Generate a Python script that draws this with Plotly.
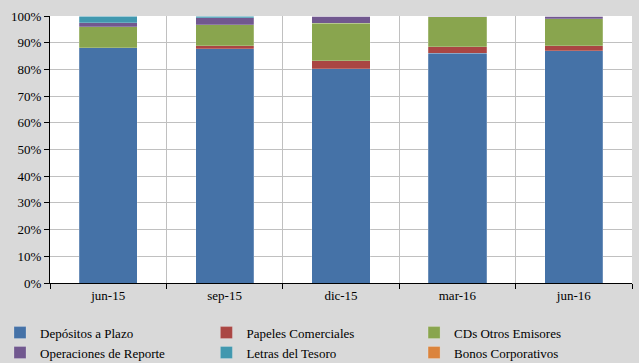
import plotly.graph_objects as go

categories = ["jun-15", "sep-15", "dic-15", "mar-16", "jun-16"]
depositos = [88.2, 87.7, 80.2, 86.0, 87.0]
papeles = [0.0, 1.2, 3.0, 2.4, 1.9]
cds = [7.7, 7.9, 14.1, 11.3, 10.1]
operaciones = [1.6, 2.6, 2.7, 0.3, 1.0]
letras = [2.5, 0.6, 0.0, 0.0, 0.0]
bonos = [0.0, 0.0, 0.0, 0.0, 0.0]

series = [
    ("Depósitos a Plazo", depositos, "#4572A7", "legend"),
    ("Papeles Comerciales", papeles, "#AA4643", "legend2"),
    ("CDs Otros Emisores", cds, "#89A54E", "legend3"),
    ("Operaciones de Reporte", operaciones, "#71588F", "legend"),
    ("Letras del Tesoro", letras, "#4198AF", "legend2"),
    ("Bonos Corporativos", bonos, "#DB843D", "legend3"),
]

font_family = "Times New Roman, Liberation Serif, DejaVu Serif, serif"

fig = go.Figure()
for name, vals, color, leg in series:
    fig.add_trace(go.Bar(
        x=categories, y=[v / 100 for v in vals], name=name, legend=leg,
        marker=dict(color=color, line=dict(color="rgba(255,255,255,0.35)", width=0.6)),
    ))

legend_common = dict(
    orientation="v", xref="container", yref="container",
    yanchor="top", xanchor="left", y=0.125,
    font=dict(family=font_family, size=13), bgcolor="rgba(0,0,0,0)",
    traceorder="normal", itemwidth=30, tracegroupgap=0,
)

fig.update_layout(
    barmode="stack",
    bargap=0.5,
    width=639, height=363,
    margin=dict(l=50, r=7, t=16, b=80, autoexpand=False),
    paper_bgcolor="#D9D9D9",
    plot_bgcolor="#FFFFFF",
    font=dict(family=font_family, size=13, color="#000000"),
    xaxis=dict(
        type="category", tickson="boundaries",
        showgrid=True, gridcolor="#C0C0C0", gridwidth=1,
        showline=True, linecolor="#000000", linewidth=1,
        ticks="outside", ticklen=5, tickcolor="#000000",
        tickfont=dict(family=font_family, size=13),
        automargin=False,
    ),
    yaxis=dict(
        range=[0, 1], tickformat=".0%", dtick=0.1,
        showgrid=True, gridcolor="#C0C0C0", gridwidth=1,
        showline=True, linecolor="#000000", linewidth=1,
        ticks="outside", ticklen=5, tickcolor="#000000",
        tickfont=dict(family=font_family, size=13), zeroline=False,
        automargin=False,
    ),
    legend=dict(legend_common, x=0.0),
    legend2=dict(legend_common, x=0.323),
    legend3=dict(legend_common, x=0.648),
    showlegend=True,
)

fig.write_html("out.html")
